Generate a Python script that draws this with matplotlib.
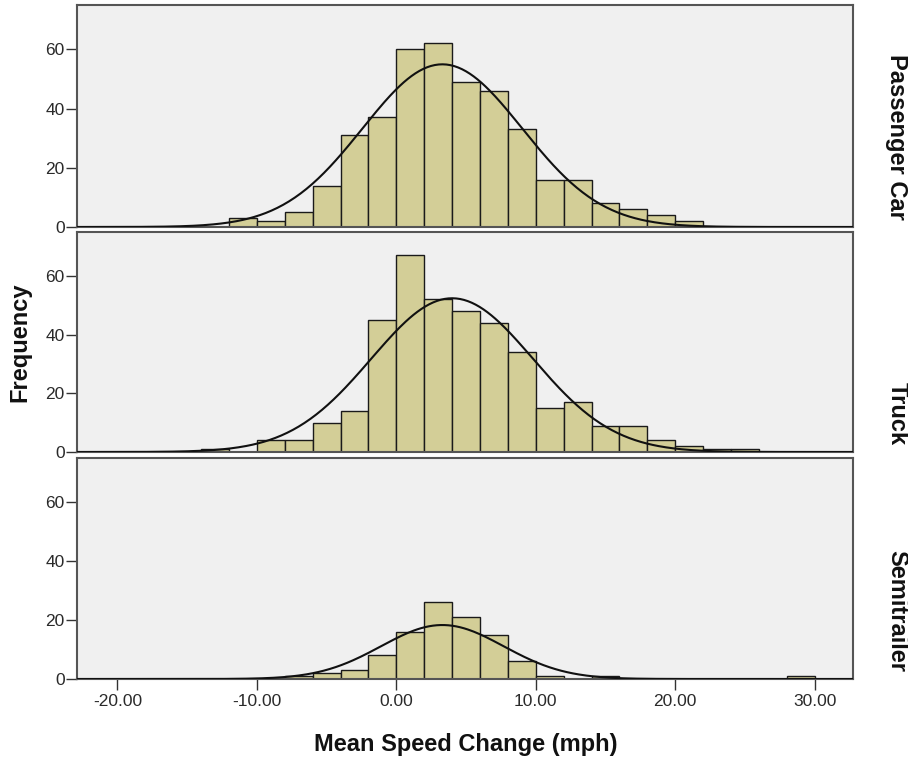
import numpy as np
import matplotlib
matplotlib.use('Agg')
import matplotlib.pyplot as plt

plt.rcParams['font.family'] = ['Liberation Sans', 'DejaVu Sans']

# bin left edges (mph), width 2
bin_width = 2
pc_edges = np.arange(-12, 22, 2)
pc_counts = [3, 2, 5, 14, 31, 37, 60, 62, 49, 46, 33, 16, 16, 8, 6, 4, 2]

truck_edges = np.arange(-14, 26, 2)
truck_counts = [1, 0, 4, 4, 10, 14, 45, 67, 52, 48, 44, 34, 15, 17, 9, 9, 4, 2, 1, 1]

semi_edges = np.arange(-8, 30, 2)
semi_counts = [1, 2, 3, 8, 16, 26, 21, 15, 6, 1, 0, 1, 0, 0, 0, 0, 0, 0, 1]

# fitted normal curve parameters (mean, sd)
pc_fit = (3.3, 5.72)
truck_fit = (4.0, 5.8)
semi_fit = (3.3, 4.4)

labels = ['Passenger Car', 'Truck', 'Semitrailer']
y_ticks = [0, 20, 40, 60]
x_ticks = [-20, -10, 0, 10, 20, 30]
x_ticklabels = ['-20.00', '-10.00', '0.00', '10.00', '20.00', '30.00']

panels = [(pc_edges, pc_counts, pc_fit),
          (truck_edges, truck_counts, truck_fit),
          (semi_edges, semi_counts, semi_fit)]

W, H = 908, 761
fig = plt.figure(figsize=(W / 100, H / 100), dpi=100)
fig.patch.set_facecolor('white')

# panel boxes in pixels: (top, bottom)
boxes = [(5, 227), (232, 452), (458, 679)]
left_px, right_px = 77, 853

xs = np.linspace(-22.9, 32.75, 400)
for i, ((edges, counts, fit), (top, bot)) in enumerate(zip(panels, boxes)):
    ax = fig.add_axes([left_px / W, 1 - bot / H, (right_px - left_px) / W, (bot - top) / H])
    ax.set_facecolor('#F0F0F0')
    ax.bar(edges, counts, width=bin_width, align='edge', color='#D3CE97',
           edgecolor='#1a1a1a', linewidth=1.0, zorder=2)
    n = sum(counts)
    mu, sd = fit
    curve = n * bin_width / (sd * np.sqrt(2 * np.pi)) * np.exp(-0.5 * ((xs - mu) / sd) ** 2)
    ax.plot(xs, curve, color='#111111', linewidth=1.5, zorder=3)
    ax.set_xlim(-22.9, 32.75)
    ax.set_ylim(0, 75)
    ax.set_yticks(y_ticks)
    ax.tick_params(axis='y', direction='out', length=8, width=1, color='#333333',
                   labelsize=12.5, labelcolor='#2a2a2a', pad=1)
    for sp in ax.spines.values():
        sp.set_color('#555555')
        sp.set_linewidth(1.5)
    if i < 2:
        ax.set_xticks([])
    else:
        ax.set_xticks(x_ticks)
        ax.set_xticklabels(x_ticklabels)
        ax.tick_params(axis='x', direction='out', length=8, width=1, color='#333333',
                       labelsize=12.5, labelcolor='#2a2a2a', pad=3)
    ax.text(1.0567, 7 / (bot - top), labels[i], transform=ax.transAxes, rotation=270,
            ha='center', va='bottom', fontsize=17, fontweight='bold', color='#111111')

fig.text(20 / W, 1 - 342 / H, 'Frequency', rotation=90, ha='center', va='center',
         fontsize=17, fontweight='bold', color='#111111')
fig.text(466 / W, 1 - 745 / H, 'Mean Speed Change (mph)', ha='center', va='center',
         fontsize=17, fontweight='bold', color='#111111')

fig.savefig('out.png', dpi=100)
